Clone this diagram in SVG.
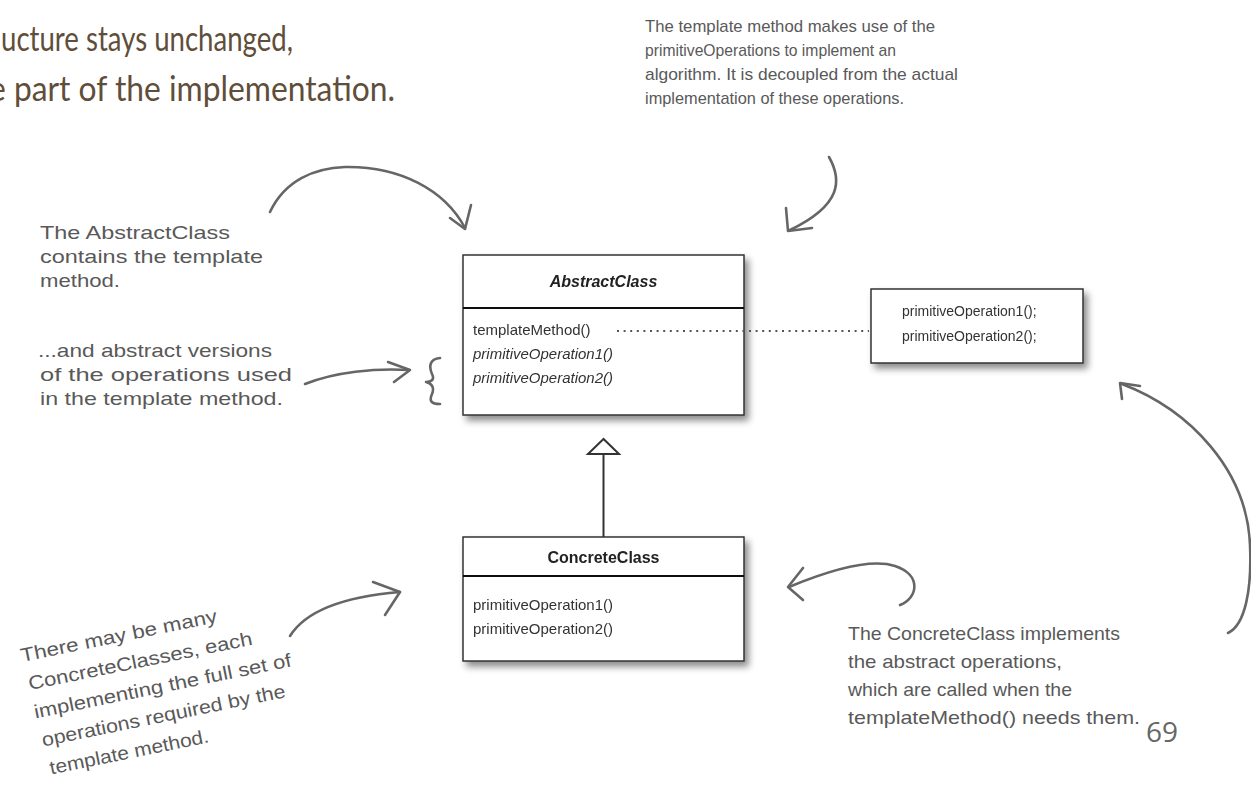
<svg xmlns="http://www.w3.org/2000/svg" width="1251" height="810" viewBox="0 0 1251 810">
  <defs>
    <filter id="shadow" x="-10%" y="-10%" width="125%" height="135%">
      <feDropShadow dx="4" dy="5" stdDeviation="3.5" flood-color="#000" flood-opacity="0.45"/>
    </filter>
    <style>
      .title { font-family: Lato, "Open Sans", sans-serif; font-size: 34px; fill: #5f4e3a; }
      .box { fill: #fff; stroke: #333; stroke-width: 1.5; }
      .divider { stroke: #111; stroke-width: 2; }
      .cls { font-family: "Liberation Sans", Arial, sans-serif; font-size: 16px; font-weight: bold; fill: #222; text-anchor: middle; }
      .op { font-family: "Liberation Sans", Arial, sans-serif; font-size: 15px; fill: #333; }
      .op-s { font-family: "Liberation Sans", Arial, sans-serif; font-size: 14px; fill: #333; }
      .note { font-family: "Liberation Sans", Arial, sans-serif; font-size: 19px; fill: #595959; }
      .note-s { font-family: "Liberation Sans", Arial, sans-serif; font-size: 17px; fill: #595959; }
      .pen { fill: none; stroke: #666; stroke-width: 2.6; stroke-linecap: round; stroke-linejoin: round; }
      .uml { fill: none; stroke: #333; stroke-width: 2; }
      .dots { fill: none; stroke: #555; stroke-width: 2; stroke-dasharray: 2 4.6; }
      .page { font-family: "Open Sans", "Noto Sans", sans-serif; font-size: 28px; fill: #666; }
    </style>
  </defs>

  <rect width="1251" height="810" fill="#fff"/>

  <!-- heading, cut at the left edge -->
  <g id="heading">
    <text class="title" x="1" y="51" textLength="292" lengthAdjust="spacingAndGlyphs">ucture stays unchanged,</text>
    <text class="title" x="-11" y="101" textLength="406" lengthAdjust="spacingAndGlyphs">e part of the implementation.</text>
  </g>

  <!-- UML classes -->
  <g id="abstract-class" filter="url(#shadow)">
    <rect class="box" x="463" y="255" width="281" height="160"/>
    <line class="divider" x1="463" y1="308" x2="744" y2="308"/>
    <text class="cls" x="603.5" y="287" font-style="italic">AbstractClass</text>
    <text class="op" x="473" y="335">templateMethod()</text>
    <text class="op" x="473" y="359" font-style="italic">primitiveOperation1()</text>
    <text class="op" x="473" y="383" font-style="italic">primitiveOperation2()</text>
  </g>

  <g id="primitive-ops" filter="url(#shadow)">
    <rect class="box" x="871" y="289" width="212" height="74"/>
    <text class="op-s" x="902" y="316">primitiveOperation1();</text>
    <text class="op-s" x="902" y="341">primitiveOperation2();</text>
  </g>

  <g id="concrete-class" filter="url(#shadow)">
    <rect class="box" x="463" y="537" width="281" height="124"/>
    <line class="divider" x1="463" y1="576" x2="744" y2="576"/>
    <text class="cls" x="603.5" y="563">ConcreteClass</text>
    <text class="op" x="473" y="610">primitiveOperation1()</text>
    <text class="op" x="473" y="634">primitiveOperation2()</text>
  </g>

  <!-- UML connectors -->
  <g id="connectors">
    <line class="dots" x1="617" y1="331" x2="869" y2="331"/>
    <line class="uml" x1="603.5" y1="454" x2="603.5" y2="537"/>
    <polygon points="603.5,439 588,454 619,454" fill="#fff" stroke="#333" stroke-width="2"/>
  </g>

  <!-- handwritten notes -->
  <g id="note-template">
    <text class="note-s" x="645" y="32" textLength="290" lengthAdjust="spacingAndGlyphs">The template method makes use of the</text>
    <text class="note-s" x="645" y="56" textLength="251" lengthAdjust="spacingAndGlyphs">primitiveOperations to implement an</text>
    <text class="note-s" x="645" y="80" textLength="313" lengthAdjust="spacingAndGlyphs">algorithm.  It is decoupled from the actual</text>
    <text class="note-s" x="645" y="104" textLength="259" lengthAdjust="spacingAndGlyphs">implementation of these operations.</text>
  </g>

  <g id="note-abstract">
    <text class="note" x="40" y="239" textLength="190" lengthAdjust="spacingAndGlyphs">The AbstractClass</text>
    <text class="note" x="40" y="263" textLength="223" lengthAdjust="spacingAndGlyphs">contains the template</text>
    <text class="note" x="40" y="287" textLength="80" lengthAdjust="spacingAndGlyphs">method.</text>
  </g>

  <g id="note-versions">
    <text class="note" x="38" y="357" textLength="234" lengthAdjust="spacingAndGlyphs">...and abstract versions</text>
    <text class="note" x="40" y="381" textLength="252" lengthAdjust="spacingAndGlyphs">of the operations used</text>
    <text class="note" x="40" y="405" textLength="243" lengthAdjust="spacingAndGlyphs">in the template method.</text>
  </g>

  <g id="note-many" transform="translate(22,662) rotate(-11.5)">
    <text class="note" x="0" y="0" textLength="200" lengthAdjust="spacingAndGlyphs">There may be many</text>
    <text class="note" x="2" y="29" textLength="228" lengthAdjust="spacingAndGlyphs">ConcreteClasses, each</text>
    <text class="note" x="2" y="58" textLength="262" lengthAdjust="spacingAndGlyphs">implementing the full set of</text>
    <text class="note" x="4" y="87" textLength="248" lengthAdjust="spacingAndGlyphs">operations required by the</text>
    <text class="note" x="6" y="116" textLength="162" lengthAdjust="spacingAndGlyphs">template method.</text>
  </g>

  <g id="note-concrete">
    <text class="note" x="848" y="640" textLength="272" lengthAdjust="spacingAndGlyphs">The ConcreteClass implements</text>
    <text class="note" x="848" y="668" textLength="214" lengthAdjust="spacingAndGlyphs">the abstract operations,</text>
    <text class="note" x="848" y="696" textLength="224" lengthAdjust="spacingAndGlyphs">which are called when the</text>
    <text class="note" x="848" y="724" textLength="292" lengthAdjust="spacingAndGlyphs">templateMethod() needs them.</text>
  </g>

  <!-- hand-drawn pointers -->
  <g id="pointers">
    <path class="pen" d="M270,212 C285,180 315,168 345,167 C400,166 445,190 465,228"/>
    <path class="pen" d="M450,218 L465,229 L471,205"/>
    <path class="pen" d="M305,384 C335,372 375,368 409,370"/>
    <path class="pen" d="M388,362 L410,370 L394,382"/>
    <path class="pen" d="M440,358 C429,359 429,367 432,374 C435,380 431,382 426,382 C431,383 435,387 432,394 C429,401 431,404 440,404"/>
    <path class="pen" d="M829,157 C842,180 842,205 790,230"/>
    <path class="pen" d="M786,208 L788,231 L812,228"/>
    <path class="pen" d="M1228,633 C1245,625 1252,590 1250,545 C1247,470 1190,410 1122,384"/>
    <path class="pen" d="M1122,399 L1120,383 L1140,386"/>
    <path class="pen" d="M900,605 C918,598 922,575 895,566 C870,558 830,570 789,587"/>
    <path class="pen" d="M803,568 L788,587 L803,600"/>
    <path class="pen" d="M290,636 C305,612 340,597 400,592"/>
    <path class="pen" d="M373,582 L400,592 L385,615"/>
  </g>

  <text class="page" x="1146" y="742">69</text>
</svg>
